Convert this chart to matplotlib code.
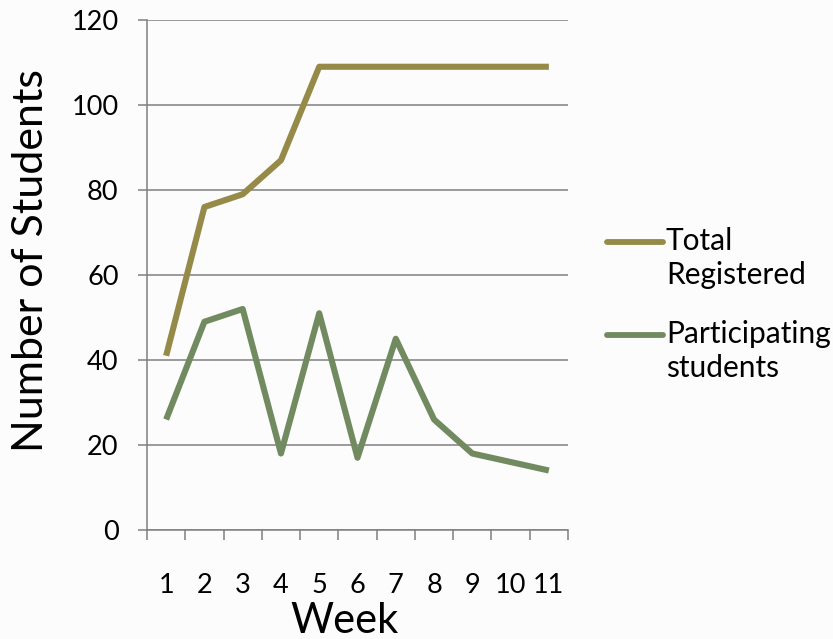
import matplotlib
matplotlib.use("Agg")
import matplotlib.pyplot as plt
from matplotlib.lines import Line2D
import numpy as np

weeks = ["1", "2", "3", "4", "5", "6", "7", "8", "9", "10", "11"]
total_registered = [41, 76, 79, 87, 109, 109, 109, 109, 109, 109, 109]
participating = [26, 49, 52, 18, 51, 17, 45, 26, 18, 16, 14]
series_names = ["Total\nRegistered", "Participating\nstudents"]
series_colors = ["#958A47", "#728A5F"]

plt.rcParams["font.family"] = ["Lato", "DejaVu Sans"]

W, H = 833, 639
fig = plt.figure(figsize=(W / 100, H / 100), dpi=100)
fig.patch.set_facecolor("#fcfcfc")
ax = fig.add_axes([147 / W, 1 - 530 / H, (568 - 147) / W, 510 / H])
ax.set_facecolor("none")

x = np.arange(len(weeks))
ax.plot(x, total_registered, color=series_colors[0], lw=4.4, solid_capstyle="butt", zorder=3)
ax.plot(x, participating, color=series_colors[1], lw=4.4, solid_capstyle="butt", zorder=3)

grid_c = "#808080"
ax.set_xlim(-0.5, len(weeks) - 0.5)
ax.set_ylim(0, 120)
ax.set_yticks(range(0, 121, 20))
ax.yaxis.grid(True, color=grid_c, lw=1.1)
ax.set_axisbelow(True)
for s in ["top", "right"]:
    ax.spines[s].set_visible(False)
for s in ["left", "bottom"]:
    ax.spines[s].set_color(grid_c)
    ax.spines[s].set_linewidth(1.1)

ax.set_xticks(x)
ax.set_xticklabels(weeks)
ax.set_xticks(np.arange(-0.5, len(weeks)), minor=True)
ax.tick_params(axis="x", which="major", length=0, pad=31, labelsize=19.5)
ax.tick_params(axis="x", which="minor", length=7, width=1.1, color=grid_c, direction="out")
ax.tick_params(axis="y", length=6.5, width=1.1, color=grid_c, pad=14, labelsize=19.5)

fig.text(31 / W, 1 - 261 / H, "Number of Students", rotation=90, fontsize=31,
         ha="center", va="center")
fig.text(344 / W, 1 - 633 / H, "Week", fontsize=30, ha="center", va="baseline")

# legend drawn by hand: handle sits beside first line of label
for i, (name, col) in enumerate(zip(series_names, series_colors)):
    ly = 1 - (242 + i * 93) / H
    fig.add_artist(Line2D([607 / W, 663 / W], [ly, ly], color=col, lw=4.2,
                          solid_capstyle="round", transform=fig.transFigure))
    fig.text(666 / W, ly + 15 / H, name, fontsize=21.5, ha="left", va="top",
             linespacing=1.25)

fig.savefig("out.png", dpi=100, facecolor=fig.get_facecolor())
